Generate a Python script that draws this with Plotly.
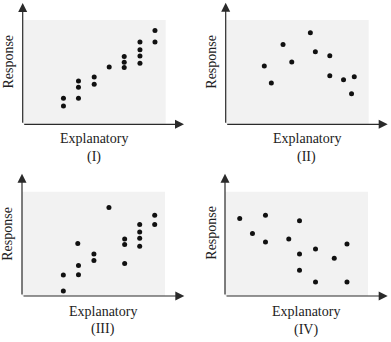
import plotly.graph_objects as go

# ---- data (shaded region spans 0..10 on both axes) ----
x1 = [2.85, 2.85, 3.9, 3.9, 3.9, 5.0, 5.0, 6.05, 7.1, 7.1, 7.1, 8.2, 8.2, 8.2, 8.2, 9.25, 9.25]
y1 = [2.5, 1.75, 4.15, 3.55, 2.5, 4.55, 3.85, 5.5, 6.5, 5.95, 5.45, 7.9, 7.15, 6.55, 5.85, 9.0, 7.9]

x2 = [2.7, 3.19, 4.01, 4.62, 5.92, 6.27, 7.28, 7.28, 8.24, 8.99, 8.8]
y2 = [5.59, 3.96, 7.67, 5.97, 8.78, 6.96, 6.58, 4.66, 4.28, 4.56, 2.93]

x3 = [2.89, 2.89, 3.9, 3.95, 3.95, 5.03, 5.03, 6.08, 7.18, 7.18, 7.18, 8.23, 8.23, 8.23, 8.23, 9.28, 9.28]
y3 = [2.02, 0.48, 5.03, 2.92, 2.05, 4.04, 3.4, 8.49, 5.48, 4.94, 3.11, 6.86, 6.15, 5.55, 4.78, 7.76, 6.86]

x4 = [1.03, 1.92, 2.83, 2.83, 4.46, 5.21, 5.21, 5.21, 6.33, 6.33, 7.64, 8.53, 8.53]
y4 = [7.44, 5.99, 7.76, 5.19, 5.48, 7.21, 4.04, 2.47, 4.52, 1.35, 3.62, 5.0, 1.35]

x_label = "Explanatory"
y_label = "Response"
panel_labels = ["(I)", "(II)", "(III)", "(IV)"]
datasets = [(x1, y1), (x2, y2), (x3, y3), (x4, y4)]

# ---- layout geometry (pixels) ----
W, H = 391, 342
SW, SH = 143.0, 104.2  # shaded region size in px
# origin x, origin y, arrow end x, arrow top y
geom = [
    (22.7, 124.3, 184.0, 3.0),
    (225.7, 124.3, 387.7, 2.7),
    (22.0, 296.0, 184.3, 173.7),
    (225.0, 296.0, 387.7, 173.7),
]
label_pos = [
    (93.8, 138.3, 156.7, 8.3, 61.3),
    (306.5, 138.3, 156.7, 210.7, 62.0),
    (103.3, 311.0, 329.3, 7.3, 233.5),
    (306.0, 311.0, 329.7, 210.7, 233.0),
]

fig = go.Figure()
layout = dict(
    width=W, height=H, margin=dict(l=0, r=0, t=0, b=0),
    paper_bgcolor="white", plot_bgcolor="white", showlegend=False,
    shapes=[], annotations=[],
)
serif = "Liberation Serif, Times New Roman, serif"
for i, ((xs, ys), (ox, oy, ex, ty), (lx, ly, ply, rx, ry)) in enumerate(zip(datasets, geom, label_pos)):
    k = "" if i == 0 else str(i + 1)
    xmax = (ex - ox) / SW * 10
    ymax = (oy - ty) / SH * 10
    layout["xaxis" + k] = dict(
        domain=[ox / W, ex / W], range=[0, xmax], showgrid=False, zeroline=False,
        showticklabels=False, showline=False, ticks="", anchor="y" + k, fixedrange=True,
    )
    layout["yaxis" + k] = dict(
        domain=[(H - oy) / H, (H - ty) / H], range=[0, ymax], showgrid=False, zeroline=False,
        showticklabels=False, showline=False, ticks="", anchor="x" + k, fixedrange=True,
    )
    fig.add_trace(go.Scatter(
        x=xs, y=ys, mode="markers", xaxis="x" + k, yaxis="y" + k,
        marker=dict(size=5, color="#111111"), cliponaxis=False,
    ))
    layout["shapes"].append(dict(
        type="rect", xref="x" + k, yref="y" + k, x0=0, x1=10, y0=0, y1=10,
        fillcolor="#f2f2f2", line=dict(width=0), layer="below",
    ))
    # axis arrows
    for (tx, tyy) in [(xmax, 0), (0, ymax)]:
        layout["annotations"].append(dict(
            x=tx, y=tyy, ax=0, ay=0, xref="x" + k, yref="y" + k, axref="x" + k, ayref="y" + k,
            text="", showarrow=True, arrowhead=2, arrowsize=1.5, arrowwidth=1.2,
            arrowcolor="#2a2a2a", standoff=0, startstandoff=0,
        ))
    layout["annotations"].append(dict(
        x=lx / W, y=(H - ly) / H, xref="paper", yref="paper", text=x_label, showarrow=False,
        font=dict(family=serif, size=14, color="#222222"), xanchor="center", yanchor="middle",
    ))
    layout["annotations"].append(dict(
        x=lx / W, y=(H - ply) / H, xref="paper", yref="paper", text=panel_labels[i], showarrow=False,
        font=dict(family=serif, size=14, color="#222222"), xanchor="center", yanchor="middle",
    ))
    layout["annotations"].append(dict(
        x=rx / W, y=(H - ry) / H, xref="paper", yref="paper", text=y_label, showarrow=False,
        textangle=-90, font=dict(family=serif, size=14, color="#222222"),
        xanchor="center", yanchor="middle",
    ))

fig.update_layout(**layout)
fig.write_html("out.html")
